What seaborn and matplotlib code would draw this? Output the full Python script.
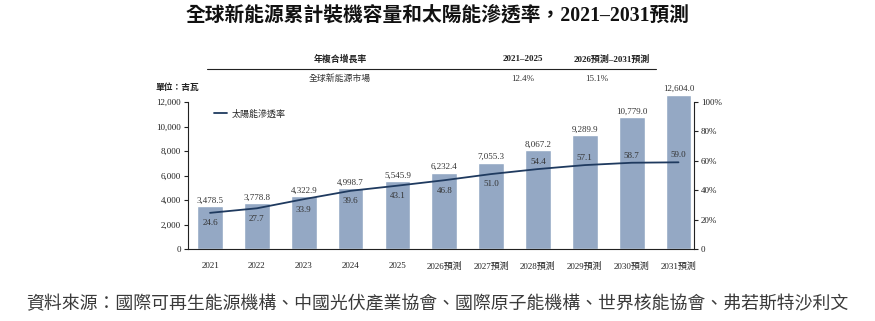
import numpy as np
import pandas as pd
import seaborn as sns
import matplotlib.pyplot as plt

sns.set_style('white')
plt.rcParams['font.family'] = ['Liberation Serif', 'Noto Sans CJK TC']
plt.rcParams['axes.unicode_minus'] = False

years = ['2021', '2022', '2023', '2024', '2025', '2026預測', '2027預測',
         '2028預測', '2029預測', '2030預測', '2031預測']
capacity = [3478.5, 3778.8, 4322.9, 4998.7, 5545.9, 6232.4, 7055.3,
            8067.2, 9289.9, 10779.0, 12604.0]
solar_share = [24.6, 27.7, 33.9, 39.6, 43.1, 46.8, 51.0, 54.4, 57.1, 58.7, 59.0]

cagr_header = ['年複合增長率', '2021–2025', '2026預測–2031預測']
cagr_row = ['全球新能源市場', '12.4%', '15.1%']

df = pd.DataFrame({'year': years, 'capacity': capacity})

bar_color = '#94a8c4'
line_color = '#1f3a5f'
text_color = '#333333'

fig = plt.figure(figsize=(8.75, 3.21), dpi=100)
ax = fig.add_axes([0.2149, 0.2243, 0.5782, 0.4953])

sns.barplot(data=df, x='year', y='capacity', color=bar_color, width=0.55,
            saturation=1, ax=ax)
ax.bar_label(ax.containers[0], labels=[f'{v:,.1f}' for v in capacity],
             padding=1, fontsize=6.5, color=text_color)

ax.set_xlim(-0.47, 10.33)
ax.set_ylim(0, 12980)
ax.set_yticks(range(0, 12001, 2000))
ax.set_yticklabels([f'{v:,}' for v in range(0, 12001, 2000)])
ax.set_xlabel('')
ax.set_ylabel('')
ax.spines['top'].set_visible(False)
ax.spines['right'].set_visible(False)
ax.spines['left'].set_bounds(0, 12000)
for s in ['left', 'bottom']:
    ax.spines[s].set_color('#222222')
    ax.spines[s].set_linewidth(0.8)
ax.tick_params(axis='y', left=True, length=3, width=0.8, labelsize=6.5,
               colors='#222222', pad=2)
ax.tick_params(axis='x', bottom=False, labelsize=6.5, colors='#222222', pad=6)

ax2 = ax.twinx()
sns.lineplot(x=np.arange(len(years)), y=solar_share, color=line_color,
             linewidth=1.3, ax=ax2, label='太陽能滲透率')
ax2.set_ylim(0, 108.2)
ax2.set_yticks(range(0, 101, 20))
ax2.set_yticklabels(['0'] + [f'{v}%' for v in range(20, 101, 20)])
for s in ['top', 'left', 'bottom']:
    ax2.spines[s].set_visible(False)
ax2.spines['right'].set_bounds(0, 100)
ax2.spines['right'].set_color('#222222')
ax2.spines['right'].set_linewidth(0.8)
ax2.tick_params(axis='y', right=True, length=3, width=0.8, labelsize=6.5,
                colors='#222222', pad=2)
ax2.set_ylabel('')
ax2.legend(loc='upper left', bbox_to_anchor=(0.035, 0.93), frameon=False,
           fontsize=6.5, handlelength=1.4, handletextpad=0.6)

for i, v in enumerate(solar_share):
    dy = -7.5 if i < 7 else 5
    ax2.annotate(f'{v:.1f}', (i, v), xytext=(0, dy), textcoords='offset points',
                 ha='center', va='center', fontsize=6.5, color=text_color)

# title
fig.text(0.5, 0.952, '全球新能源累計裝機容量和太陽能滲透率，2021–2031預測',
         ha='center', va='center', fontsize=14.2, fontweight='bold',
         color='#111111')

# CAGR table
fig.text(340 / 875, 0.816, cagr_header[0], ha='center', va='center',
         fontsize=6.4, fontweight='bold', color='#222222')
fig.text(523 / 875, 0.816, cagr_header[1], ha='center', va='center',
         fontsize=6.5, fontweight='bold', color='#222222')
fig.text(612 / 875, 0.816, cagr_header[2], ha='center', va='center',
         fontsize=6.5, fontweight='bold', color='#222222')
fig.add_artist(plt.Line2D([207 / 875, 656 / 875], [0.785, 0.785],
                          color='#222222', linewidth=0.8))
fig.text(340 / 875, 0.754, cagr_row[0], ha='center', va='center',
         fontsize=6.4, color='#333333')
fig.text(523 / 875, 0.754, cagr_row[1], ha='center', va='center',
         fontsize=6.5, color='#333333')
fig.text(597 / 875, 0.754, cagr_row[2], ha='center', va='center',
         fontsize=6.5, color='#333333')

fig.text(155 / 875, 0.726, '單位：吉瓦', ha='left', va='center', fontsize=6.3,
         fontweight='bold', color='#222222')

# source note
fig.text(0.5, 0.052,
         '資料來源：國際可再生能源機構、中國光伏產業協會、國際原子能機構、世界核能協會、弗若斯特沙利文',
         ha='center', va='center', fontsize=12.9, style='italic',
         fontweight='light', color='#3a3a3a')

fig.savefig('out.png', dpi=100)
